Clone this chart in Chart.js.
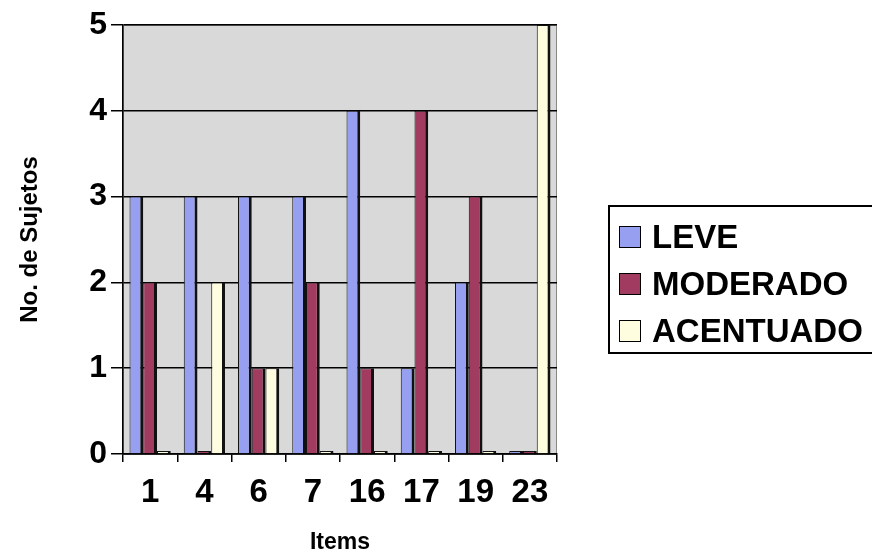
<!DOCTYPE html>
<html>
<head>
<meta charset="utf-8">
<script src="https://cdn.jsdelivr.net/npm/chart.js@4/dist/chart.umd.min.js"></script>
<style>
  body { margin: 0; background: #fff; }
  #wrap { position: relative; width: 872px; height: 556px; overflow: hidden; }
  #legend {
    position: absolute; left: 608px; top: 205px; width: 290px; height: 149px;
    border: 2px solid #000; box-sizing: border-box; padding-top: 6px;
    font: bold 33px "Liberation Sans", Arial, sans-serif; color: #000;
  }
  .item { display: flex; align-items: center; height: 47px; padding-left: 9px; }
  .box { width: 20px; height: 20px; border: 1px solid #000; margin-right: 11px; }
</style>
</head>
<body>
<div id="wrap">
  <canvas id="myChart" width="872" height="556"></canvas>
  <div id="legend"></div>
</div>
<script>
const items = ["1", "4", "6", "7", "16", "17", "19", "23"];
const leve = [3, 3, 3, 3, 4, 1, 2, 0];
const moderado = [2, 0, 1, 2, 1, 4, 3, 0];
const acentuado = [0, 2, 1, 0, 0, 0, 0, 5];
const seriesNames = ["LEVE", "MODERADO", "ACENTUADO"];
const seriesColors = ["#979ff0", "#a13b60", "#fffde0"];

const font = "'Liberation Sans', Arial, sans-serif";

// gray plot background like the old Excel chart
const plotBg = {
  id: "plotBg",
  beforeDraw(chart) {
    const { ctx, chartArea: a } = chart;
    ctx.save();
    ctx.fillStyle = "#d9d9d9";
    ctx.fillRect(a.left, a.top, a.right - a.left, a.bottom - a.top);
    ctx.strokeStyle = "#888";
    ctx.lineWidth = 1;
    ctx.strokeRect(a.left + 0.5, a.top + 0.5, a.right - a.left - 1, a.bottom - a.top);
    ctx.restore();
  }
};

function barSet(label, data, color) {
  return {
    label: label,
    data: data,
    backgroundColor: color,
    borderColor: "#111",
    borderWidth: { top: 1, left: 1, right: 3, bottom: 0 },
    borderSkipped: false,
    minBarLength: 3,
    categoryPercentage: 0.76,
    barPercentage: 1
  };
}

let ctx = document.getElementById("myChart").getContext("2d");
let myChart = new Chart(ctx, {
  type: "bar",
  data: {
    labels: items,
    datasets: [
      barSet(seriesNames[0], leve, seriesColors[0]),
      barSet(seriesNames[1], moderado, seriesColors[1]),
      barSet(seriesNames[2], acentuado, seriesColors[2])
    ]
  },
  options: {
    responsive: false,
    animation: false,
    layout: { padding: { left: 0, right: 315, top: 25, bottom: 0 } },
    plugins: { legend: { display: false }, tooltip: { enabled: false } },
    scales: {
      x: {
        afterFit(scale) { scale.height = 102; },
        grid: { drawOnChartArea: false, color: "#000", tickLength: 8, lineWidth: 1.5 },
        border: { color: "#000", width: 1.5 },
        ticks: { color: "#000", padding: 11, font: { family: font, size: 33, weight: "bold" } },
        title: {
          display: true, text: "Items", color: "#000",
          font: { family: font, size: 23, weight: "bold" }, padding: { top: 8, bottom: 0 }
        }
      },
      y: {
        min: 0, max: 5,
        afterFit(scale) { scale.width = 123; },
        grid: { color: "#000", lineWidth: 1.5, tickLength: 12 },
        border: { color: "#000", width: 1.5 },
        ticks: { stepSize: 1, color: "#000", padding: 4, font: { family: font, size: 32, weight: "bold" } },
        title: {
          display: true, text: "No. de Sujetos", color: "#000",
          font: { family: font, size: 24, weight: "bold" }, padding: { top: 16, bottom: 10 }
        }
      }
    }
  },
  plugins: [plotBg]
});

// legend box built from the datasets
const legendEl = document.getElementById("legend");
myChart.data.datasets.forEach((ds) => {
  const row = document.createElement("div");
  row.className = "item";
  const box = document.createElement("span");
  box.className = "box";
  box.style.background = ds.backgroundColor;
  const txt = document.createElement("span");
  txt.textContent = ds.label;
  row.appendChild(box);
  row.appendChild(txt);
  legendEl.appendChild(row);
});
</script>
</body>
</html>
